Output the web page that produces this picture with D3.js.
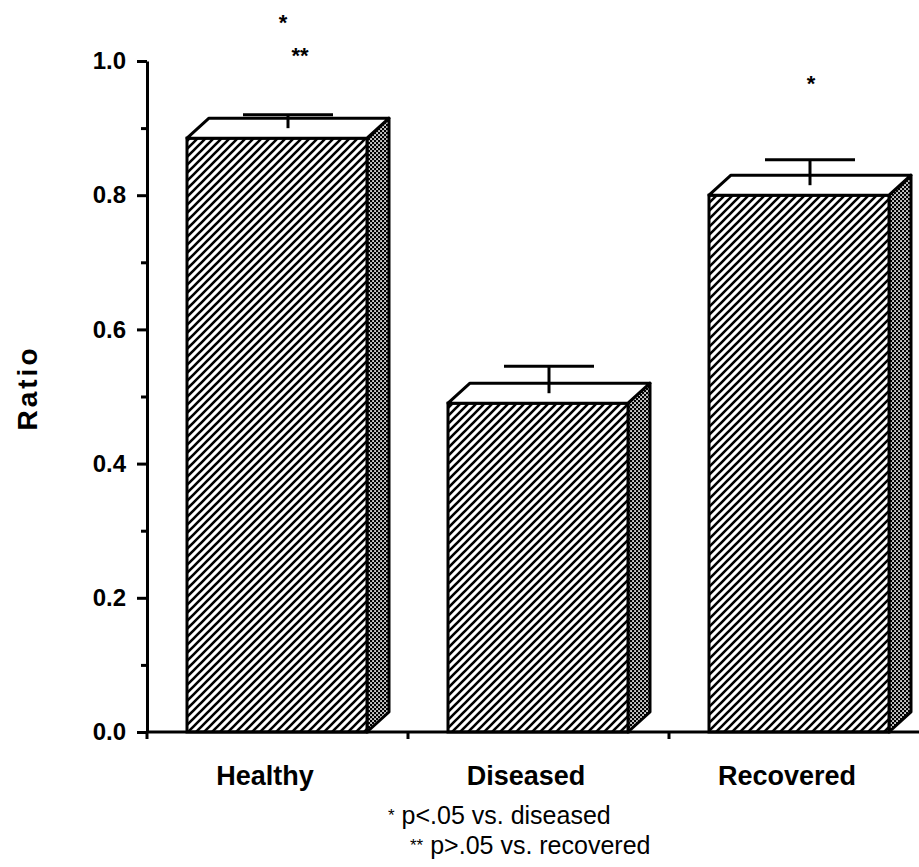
<!DOCTYPE html>
<meta charset="utf-8">
<script src="https://d3js.org/d3.v7.min.js"></script>
<style type="text/css">
body {
  margin: 0;
  background: #fff;
}

text {
  font-family: "Liberation Sans", Arial, Helvetica, sans-serif;
  fill: #000;
}

.axis path,
.axis line {
  fill: none;
  stroke: #000;
  stroke-width: 3;
}
</style>
<body>
<script>

// data
var categories = ["Healthy", "Diseased", "Recovered"];
var ratios = [0.885, 0.49, 0.80];
var errors = [0.02, 0.04, 0.038];
var majorTicks = [0, 0.2, 0.4, 0.6, 0.8, 1.0];
var minorTicks = [0.1, 0.3, 0.5, 0.7, 0.9];
var sigMarks = ["*", "**", "*"];
var sigCats = ["Healthy", "Healthy", "Recovered"];
var sigLevels = [1.064, 1.015, 0.973];
var footnotes = [["*", "p<.05 vs. diseased"], ["**", "p>.05 vs. recovered"]];

var width = 919, height = 867;
var depthX = 22, depthY = -20;   // 3d offset of the bars
var barOffset = 40, barWidth = 180;

var svg = d3.select("body").append("svg")
    .attr("width", width)
    .attr("height", height);

var x = d3.scaleBand().domain(categories).range([147, 930]).padding(0);
var y = d3.scaleLinear().domain([0, 1]).range([732, 61]);

// patterns
var defs = svg.append("defs");
var hatch = defs.append("pattern")
    .attr("id", "hatch")
    .attr("patternUnits", "userSpaceOnUse")
    .attr("width", 8).attr("height", 8);
hatch.append("rect").attr("width", 8).attr("height", 8).style("fill", "#fff");
hatch.append("path")
    .attr("d", "M-1,1 l2,-2 M0,8 l8,-8 M7,9 l2,-2")
    .style("stroke", "#000").style("stroke-width", 2.6);

var dots = defs.append("pattern")
    .attr("id", "dots")
    .attr("patternUnits", "userSpaceOnUse")
    .attr("width", 4).attr("height", 4);
dots.append("rect").attr("width", 4).attr("height", 4).style("fill", "#000");
dots.append("rect").attr("x", 0.2).attr("y", 0.2).attr("width", 1.7).attr("height", 1.7).style("fill", "#fff");
dots.append("rect").attr("x", 2.2).attr("y", 2.2).attr("width", 1.7).attr("height", 1.7).style("fill", "#fff");

var data = categories.map(function(c, i) { return {cat: c, v: ratios[i], e: errors[i]}; });

// add bars
var bars = svg.selectAll(".bar").data(data).enter().append("g").attr("class", "bar");

function x0(d) { return x(d.cat) + barOffset; }
function x1(d) { return x(d.cat) + barOffset + barWidth; }

bars.append("path")
    .attr("d", function(d) {
        return "M" + x1(d) + "," + y(d.v) +
            "L" + (x1(d) + depthX) + "," + (y(d.v) + depthY) +
            "L" + (x1(d) + depthX) + "," + (y(0) + depthY) +
            "L" + x1(d) + "," + y(0) + "Z";
    })
    .style("fill", "url(#dots)")
    .style("stroke", "#000").style("stroke-width", 3).style("stroke-linejoin", "round");

bars.append("rect")
    .attr("x", x0)
    .attr("y", function(d) { return y(d.v); })
    .attr("width", barWidth)
    .attr("height", function(d) { return y(0) - y(d.v); })
    .style("fill", "url(#hatch)")
    .style("stroke", "#000").style("stroke-width", 3);

bars.append("path")
    .attr("d", function(d) {
        return "M" + x0(d) + "," + y(d.v) +
            "L" + (x0(d) + depthX) + "," + (y(d.v) + depthY) +
            "L" + (x1(d) + depthX) + "," + (y(d.v) + depthY) +
            "L" + x1(d) + "," + y(d.v) + "Z";
    })
    .style("fill", "#fff")
    .style("stroke", "#000").style("stroke-width", 3).style("stroke-linejoin", "round");

// error bars, drawn from the middle of the top face
function stemX(c) { return x(c) + barOffset + barWidth / 2 + depthX / 2; }

bars.append("line")
    .attr("x1", function(d) { return stemX(d.cat); })
    .attr("x2", function(d) { return stemX(d.cat); })
    .attr("y1", function(d) { return y(d.v) + depthY / 2; })
    .attr("y2", function(d) { return y(d.v + d.e) + depthY / 2; })
    .style("stroke", "#000").style("stroke-width", 3);

bars.append("line")
    .attr("x1", function(d) { return stemX(d.cat) - 45; })
    .attr("x2", function(d) { return stemX(d.cat) + 45; })
    .attr("y1", function(d) { return y(d.v + d.e) + depthY / 2; })
    .attr("y2", function(d) { return y(d.v + d.e) + depthY / 2; })
    .style("stroke", "#000").style("stroke-width", 3);

// significance stars
var starShift = [-5, 12, 1];
svg.selectAll(".sig").data(sigMarks).enter().append("text")
    .attr("class", "sig")
    .attr("x", function(d, i) { return stemX(sigCats[i]) + starShift[i]; })
    .attr("y", function(d, i) { return y(sigLevels[i]) + 12; })
    .style("text-anchor", "middle")
    .style("font-size", "22px")
    .style("font-weight", "bold")
    .text(function(d) { return d; });

// y axis
var yAxis = d3.axisLeft(y).tickValues(majorTicks).tickSize(10).tickSizeOuter(0)
    .tickPadding(11).tickFormat(d3.format(".1f"));
var gy = svg.append("g").attr("class", "axis").attr("transform", "translate(147,0)").call(yAxis);
gy.selectAll("text")
    .style("font-size", "24px")
    .style("font-weight", "bold")
    .style("font-family", "'Liberation Sans', Arial, sans-serif");

var yMinor = d3.axisLeft(y).tickValues(minorTicks).tickSize(6).tickSizeOuter(0).tickFormat("");
svg.append("g").attr("class", "axis").attr("transform", "translate(147,0)").call(yMinor)
    .select(".domain").remove();

// x axis
svg.append("line")
    .attr("x1", 147).attr("x2", width)
    .attr("y1", y(0)).attr("y2", y(0))
    .style("stroke", "#000").style("stroke-width", 3);

svg.selectAll(".xtick").data(categories).enter().append("line")
    .attr("class", "xtick")
    .attr("x1", function(d) { return x(d); })
    .attr("x2", function(d) { return x(d); })
    .attr("y1", y(0))
    .attr("y2", y(0) + 7)
    .style("stroke", "#000").style("stroke-width", 3);

svg.selectAll(".xlabel").data(categories).enter().append("text")
    .attr("class", "xlabel")
    .attr("x", function(d) { return x(d) + 118; })
    .attr("y", 785)
    .style("text-anchor", "middle")
    .style("font-size", "27px")
    .style("font-weight", "bold")
    .text(function(d) { return d; });

// y label
svg.append("text")
    .attr("transform", "translate(37,388) rotate(-90)")
    .style("text-anchor", "middle")
    .style("font-size", "28px")
    .style("font-weight", "bold")
    .style("letter-spacing", "3px")
    .text("Ratio");

// footnotes
var notes = svg.selectAll(".note").data(footnotes).enter().append("text")
    .attr("class", "note")
    .attr("x", function(d, i) { return i == 0 ? 388 : 410; })
    .attr("y", function(d, i) { return 824 + i * 30; })
    .style("font-size", "25px");
notes.append("tspan").style("font-size", "17px").attr("dy", -3).text(function(d) { return d[0]; });
notes.append("tspan").attr("dy", 3).text(function(d) { return " " + d[1]; });

</script>
</body>
</html>
